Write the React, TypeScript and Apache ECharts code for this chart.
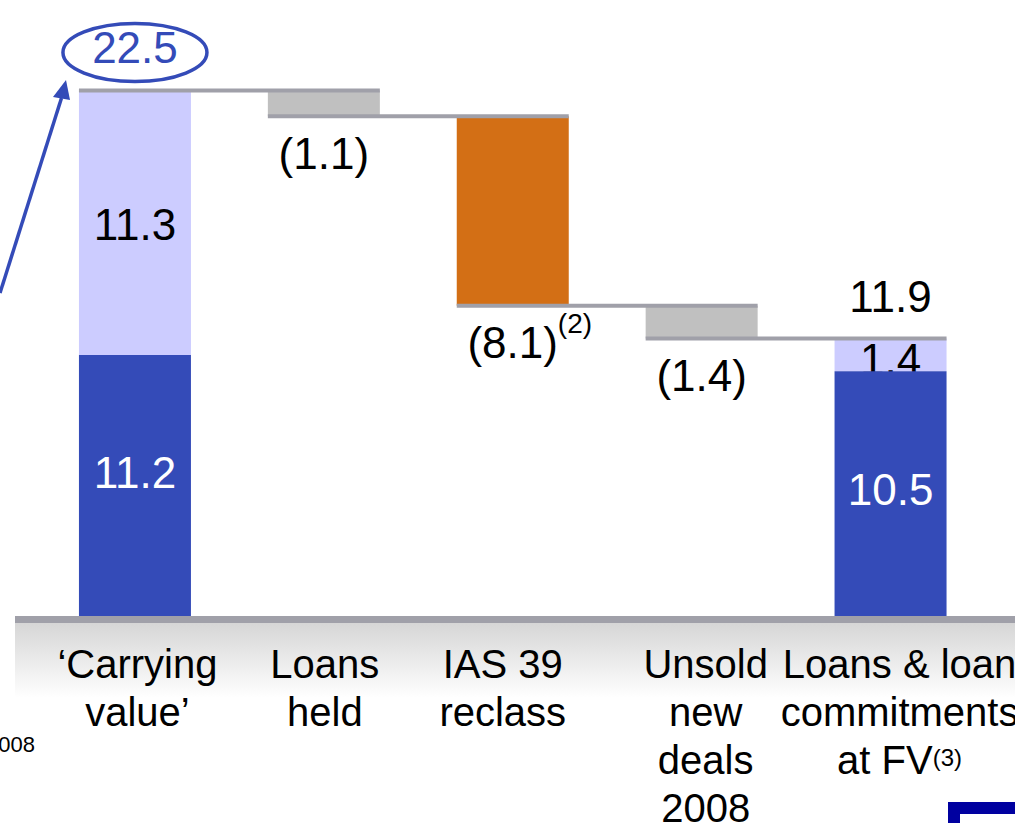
import React, { useEffect, useRef } from "react";
import * as echarts from "echarts";

// ---------- data ----------
const categories = [
  "‘Carrying\nvalue’",
  "Loans\nheld",
  "IAS 39\nreclass",
  "Unsold\nnew\ndeals\n2008",
  "Loans & loan\ncommitments\nat FV",
];
const categoryNotes = ["", "", "", "", "(3)"];
const lowerSegment = [11.2, null, null, null, 10.5];
const upperSegment = [11.3, null, null, null, 1.4];
const movements = [null, -1.1, -8.1, -1.4, null];
const movementNotes = ["", "", "(2)", "", ""];
const totals = [22.5, null, null, null, 11.9];
const sideNote = "2008";

// ---------- styles ----------
const FONT = "'Liberation Sans', Arial, sans-serif";
const BLUE = "#344bb8";
const LAVENDER = "#ccccff";
const ORANGE = "#d36f15";
const GREY = "#c0c0c0";
const LINE = "#a0a0a9";
const NAVY = "#0000a0";
const BAR_W = 112;
const movementPalette = [null, GREY, ORANGE, GREY, null];
const labelShift = [2.5, 1, -10, 4, 9];
const lowerNudge = [-13.5, 0, 0, 0, -5];
const upperNudge = [2, 0, 0, 0, 5];

// running levels (value at right of each bar)
const levels: number[] = [];
{
  let run = 0;
  categories.forEach((_, i) => {
    if (totals[i] != null) run = totals[i] as number;
    else run = +(run + (movements[i] as number)).toFixed(1);
    levels.push(run);
  });
}
const baseValues = movements.map((m, i) => (m == null ? 0 : levels[i]));
const connectorData = levels.slice(0, -1).map((v, i) => [i, v]);
const totalData = totals
  .map((t, i) => (t == null ? null : [i, t]))
  .filter((d) => d != null) as number[][];

export default function App() {
  const ref = useRef<HTMLDivElement>(null);
  useEffect(() => {
    if (!ref.current) return;
    const chart = echarts.init(ref.current, null, { renderer: "svg" });

    const catRich: any = {
      sup: {
        fontSize: 24,
        lineHeight: 24,
        fontFamily: FONT,
        color: "#000",
        verticalAlign: "middle",
        padding: [0, 0, 6, 0],
      },
    };
    labelShift.forEach((s, i) => {
      catRich["c" + i] = {
        fontSize: 40,
        lineHeight: 48,
        fontFamily: FONT,
        color: "#000",
        padding: s >= 0 ? [0, 0, 0, 2 * s] : [0, -2 * s, 0, 0],
      };
    });

    const option: any = {
      animation: false,
      grid: {
        left: 40.5,
        right: 30,
        top: 32,
        bottom: 206,
        containLabel: false,
        outerBoundsMode: "none",
      },
      xAxis: {
        type: "category",
        data: categories,
        axisLine: { show: false },
        axisTick: { show: false },
        axisLabel: {
          interval: 0,
          margin: 23,
          formatter: (val: string, idx: number) => {
            const lines = val.split("\n");
            return lines
              .map(
                (l, li) =>
                  `{c${idx}|${l}}` +
                  (li === lines.length - 1 && categoryNotes[idx]
                    ? `{sup|${categoryNotes[idx]}}`
                    : "")
              )
              .join("\n");
          },
          rich: catRich,
        },
      },
      yAxis: { type: "value", min: 0, max: 25, show: false },
      series: [
        {
          name: "base",
          type: "bar",
          stack: "w",
          barWidth: BAR_W,
          silent: true,
          itemStyle: { color: "transparent" },
          data: baseValues,
        },
        {
          name: "lower",
          type: "bar",
          stack: "w",
          barWidth: BAR_W,
          z: 3,
          itemStyle: { color: BLUE },
          label: {
            show: true,
            position: "inside",
            color: "#fff",
            fontSize: 44,
            fontFamily: FONT,
            formatter: (p: any) => Number(p.value).toFixed(1),
          },
          data: lowerSegment.map((v, i) =>
            v == null ? null : { value: v, label: { offset: [0, lowerNudge[i]] } }
          ),
        },
        {
          name: "upper",
          type: "bar",
          stack: "w",
          barWidth: BAR_W,
          z: 2,
          itemStyle: { color: LAVENDER },
          label: {
            show: true,
            position: "inside",
            color: "#000",
            fontSize: 44,
            fontFamily: FONT,
            formatter: (p: any) => Number(p.value).toFixed(1),
          },
          data: upperSegment.map((v, i) =>
            v == null ? null : { value: v, label: { offset: [0, upperNudge[i]] } }
          ),
        },
        {
          name: "movement",
          type: "bar",
          stack: "w",
          barWidth: BAR_W,
          z: 2,
          label: {
            show: true,
            position: "bottom",
            distance: 4,
            formatter: (p: any) => {
              const note = movementNotes[p.dataIndex];
              const t = `(${Number(p.value).toFixed(1)})`;
              return note ? `{mn|${t}}{s|${note}}` : `{m|${t}}`;
            },
            rich: {
              m: { fontSize: 44, lineHeight: 66, fontFamily: FONT, color: "#000" },
              mn: {
                fontSize: 44,
                lineHeight: 66,
                fontFamily: FONT,
                color: "#000",
                padding: [0, 0, 0, 34],
              },
              s: {
                fontSize: 28,
                lineHeight: 28,
                fontFamily: FONT,
                color: "#000",
                verticalAlign: "top",
              },
            },
          },
          data: movements.map((m, i) =>
            m == null
              ? null
              : { value: Math.abs(m), itemStyle: { color: movementPalette[i] } }
          ),
        },
        {
          name: "connectors",
          type: "custom",
          z: 4,
          silent: true,
          data: connectorData,
          renderItem: (params: any, api: any) => {
            const i = api.value(0);
            const v = api.value(1);
            const a = api.coord([i, v]);
            const b = api.coord([i + 1, v]);
            return {
              type: "rect",
              shape: {
                x: a[0] - BAR_W / 2,
                y: a[1] - 2,
                width: b[0] - a[0] + BAR_W,
                height: 4,
              },
              style: { fill: LINE },
            };
          },
        },
        {
          name: "totals",
          type: "custom",
          z: 6,
          silent: true,
          data: totalData,
          renderItem: (params: any, api: any) => {
            const p = api.coord([api.value(0), api.value(1)]);
            const text = Number(api.value(1)).toFixed(1);
            if (params.dataIndex === 0) {
              return {
                type: "group",
                children: [
                  {
                    type: "ellipse",
                    shape: { cx: p[0], cy: p[1] - 38, rx: 72, ry: 29 },
                    style: { fill: "none", stroke: BLUE, lineWidth: 3.5 },
                  },
                  {
                    type: "text",
                    style: {
                      text,
                      x: p[0],
                      y: p[1] - 43.5,
                      align: "center",
                      verticalAlign: "middle",
                      fontSize: 44,
                      fontFamily: FONT,
                      fill: BLUE,
                    },
                  },
                ],
              };
            }
            return {
              type: "text",
              style: {
                text,
                x: p[0],
                y: p[1] - 42.5,
                align: "center",
                verticalAlign: "middle",
                fontSize: 44,
                fontFamily: FONT,
                fill: "#000",
              },
            };
          },
        },
      ],
      graphic: [
        {
          type: "rect",
          z: -1,
          shape: { x: 15, y: 623, width: 1000, height: 75 },
          style: {
            fill: new echarts.graphic.LinearGradient(0, 0, 0, 1, [
              { offset: 0, color: "#d6d6d6" },
              { offset: 1, color: "#ffffff" },
            ]),
          },
        },
        {
          type: "rect",
          z: 50,
          shape: { x: 15, y: 616, width: 1000, height: 7 },
          style: { fill: LINE },
        },
        {
          type: "line",
          z: 50,
          shape: { x1: 0, y1: 293, x2: 61.5, y2: 98 },
          style: { stroke: BLUE, lineWidth: 3.5 },
        },
        {
          type: "polygon",
          z: 50,
          shape: { points: [[66, 80], [53, 97], [70, 100]] },
          style: { fill: BLUE },
        },
        {
          type: "text",
          z: 50,
          style: {
            text: sideNote,
            x: 35,
            y: 744,
            align: "right",
            verticalAlign: "middle",
            fontSize: 22,
            fontFamily: FONT,
            fill: "#000",
          },
        },
        {
          type: "rect",
          z: 50,
          shape: { x: 954, y: 808, width: 200, height: 100 },
          style: { fill: "#fff", stroke: NAVY, lineWidth: 12 },
        },
      ],
    };
    chart.setOption(option);
    return () => chart.dispose();
  }, []);
  return (
    <div
      ref={ref}
      style={{ position: "fixed", left: 0, top: 0, width: 1015, height: 823, background: "#fff" }}
    />
  );
}
